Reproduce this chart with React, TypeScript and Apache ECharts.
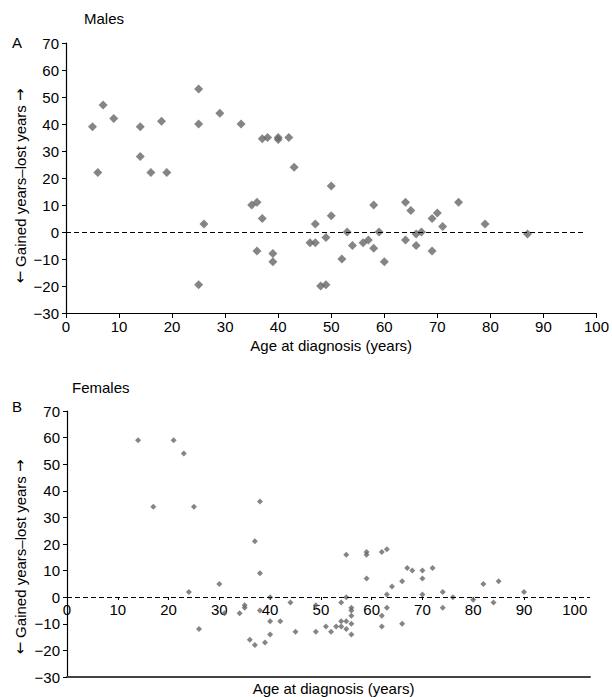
import React, { useEffect, useRef } from "react";
import * as echarts from "echarts";

const maleData: [number, number][] = [
  [5, 39], [6, 22], [7, 47], [9, 42], [14, 39], [14, 28], [16, 22], [18, 41], [19, 22],
  [25, 53], [25, 40], [26, 3], [25, -19.5], [29, 44], [33, 40], [35, 10], [36, 11],
  [37, 34.5], [38, 35], [37, 5], [36, -7], [40, 35], [40, 34.3], [39, -8], [39, -11],
  [42, 35], [43, 24], [46, -4], [47, -4], [47, 3], [49, -2], [48, -20], [49, -19.5],
  [50, 17], [50, 6], [52, -10], [53, 0], [54, -5], [56, -4], [57, -3], [58, 10],
  [58, -6], [59, 0], [60, -11], [64, 11], [64, -3], [65, 8], [66, -0.7], [66, -5],
  [67, 0], [69, 5], [69, -7], [70, 7], [71, 2], [74, 11], [79, 3], [87, -0.7],
];

const femaleData: [number, number][] = [
  [14, 59], [17, 34], [21, 59], [23, 54], [25, 34], [24, 2], [26, -12], [30, 5], [31, -6],
  [34, -6], [35, -3], [35, -4], [37, 21], [38, 36], [38, 9], [38, -5], [36, -16], [37, -18],
  [39, -17], [40, -14], [40, 0], [40, -9], [42, -9], [44, -2], [45, -13], [49, -13], [49, -3],
  [51, -11], [52, -13], [53, -11], [54, -11], [54, -9], [54, -2], [55, -9], [55, -12], [55, 0],
  [55, 16], [56, -4], [56, -5], [56, -7], [56, -10], [56, -14], [59, 17], [59, 16], [59, 7],
  [62, 17], [63, 18], [62, -7], [62, -11], [63, 1], [63, -4], [64, 4], [66, 6], [66, -10],
  [67, 11], [68, 10], [70, 10], [70, 7], [70, 1], [72, 11], [74, 2], [74, -4], [76, 0],
  [80, -1], [82, 5], [84, -2], [85, 6], [90, 2],
];

const xTicks = [0, 10, 20, 30, 40, 50, 60, 70, 80, 90, 100];
const yMin = -30;
const yMax = 70;
const topRefEnd = 98;
const bottomXMax = 103;

const FONT = "'Liberation Sans', Arial, Helvetica, sans-serif";
const fmtY = (v: number) => String(v).replace("-", "\u2212");
const Y_TITLE = "{a|\u2190} Gained years\u2013lost years {a|\u2192}";

export default function App() {
  const ref = useRef<HTMLDivElement>(null);
  useEffect(() => {
    if (!ref.current) return;
    const chart = echarts.init(ref.current, null, { renderer: "svg" });
    const txt = { color: "#000", fontFamily: FONT, fontSize: 15 };
    const yAxisBase = {
      type: "value",
      min: yMin,
      max: yMax,
      interval: 10,
      axisLine: { show: true, lineStyle: { color: "#000", width: 1.2 } },
      axisTick: { show: true, length: 4, lineStyle: { color: "#000" } },
      axisLabel: { ...txt, margin: 7, formatter: fmtY },
      splitLine: { show: false },
    };
    const yTitleStyle = {
      text: Y_TITLE,
      fill: "#000",
      font: `15px ${FONT}`,
      align: "center",
      verticalAlign: "middle",
      rich: { a: { fontFamily: "'DejaVu Sans', sans-serif", fontSize: 15, fill: "#000" } },
    };
    chart.setOption({
      animation: false,
      backgroundColor: "#fff",
      grid: [
        { left: 66, top: 43, width: 533, height: 270 },
        { left: 67, top: 411, width: 523, height: 266 },
        // upper part of panel B (0..70) whose bottom edge is the zero line
        { left: 67, top: 411, width: 523, height: 186 },
      ],
      xAxis: [
        {
          gridIndex: 0,
          type: "value",
          min: 0,
          max: 100,
          interval: 10,
          axisLine: { onZero: false, lineStyle: { color: "#000", width: 1.2 } },
          axisTick: { length: 5, lineStyle: { color: "#000" } },
          axisLabel: { ...txt, margin: 6 },
          splitLine: { show: false },
          name: "Age at diagnosis (years)",
          nameLocation: "middle",
          nameGap: 25,
          nameTextStyle: { ...txt },
        },
        {
          gridIndex: 1,
          type: "value",
          min: 0,
          max: bottomXMax,
          position: "bottom",
          axisLine: { show: true, onZero: false, lineStyle: { color: "#444", width: 2 } },
          axisTick: { show: false },
          axisLabel: { show: false },
          splitLine: { show: false },
          name: "Age at diagnosis (years)",
          nameLocation: "middle",
          nameGap: 4,
          nameTextStyle: { ...txt, padding: [0, 0, 0, 10] },
        },
        {
          gridIndex: 2,
          type: "value",
          min: 0,
          max: bottomXMax,
          interval: 10,
          position: "bottom",
          axisLine: { show: false, onZero: false },
          axisTick: { show: true, length: 3, lineStyle: { color: "#000" }, customValues: xTicks },
          axisLabel: {
            ...txt,
            margin: 5,
            customValues: xTicks,
            formatter: (v: number) => (v > 100 ? "" : String(v)),
          },
          splitLine: { show: false },
        },
      ],
      yAxis: [
        { ...yAxisBase, gridIndex: 0 },
        { ...yAxisBase, gridIndex: 1 },
        { gridIndex: 2, type: "value", min: 0, max: yMax, show: false },
      ],
      series: [
        {
          type: "scatter",
          xAxisIndex: 0,
          yAxisIndex: 0,
          data: maleData,
          symbol: "diamond",
          symbolSize: 9,
          itemStyle: { color: "#666" },
          markLine: {
            silent: true,
            symbol: "none",
            label: { show: false },
            lineStyle: { color: "#000", type: [5, 3], width: 1.2 },
            data: [[{ coord: [0, 0] }, { coord: [topRefEnd, 0] }]],
          },
        },
        {
          type: "scatter",
          xAxisIndex: 1,
          yAxisIndex: 1,
          data: femaleData,
          symbol: "diamond",
          symbolSize: 6,
          itemStyle: { color: "#666" },
          markLine: {
            silent: true,
            symbol: "none",
            label: { show: false },
            lineStyle: { color: "#000", type: [5, 3], width: 1.2 },
            data: [[{ coord: [0, 0] }, { coord: [bottomXMax, 0] }]],
          },
        },
      ],
      graphic: [
        { type: "text", left: 84, top: 11, style: { text: "Males", fill: "#000", font: `15px ${FONT}` } },
        { type: "text", left: 12, top: 35, style: { text: "A", fill: "#000", font: `15px ${FONT}` } },
        { type: "text", left: 72, top: 380, style: { text: "Females", fill: "#000", font: `15px ${FONT}` } },
        { type: "text", left: 12, top: 399, style: { text: "B", fill: "#000", font: `15px ${FONT}` } },
        { type: "text", x: 20, y: 186, rotation: Math.PI / 2, style: yTitleStyle },
        { type: "text", x: 20, y: 557, rotation: Math.PI / 2, style: yTitleStyle },
      ],
    });
    return () => chart.dispose();
  }, []);
  return (
    <div
      ref={ref}
      style={{ position: "fixed", left: 0, top: 0, width: 612, height: 697, background: "#fff" }}
    />
  );
}
